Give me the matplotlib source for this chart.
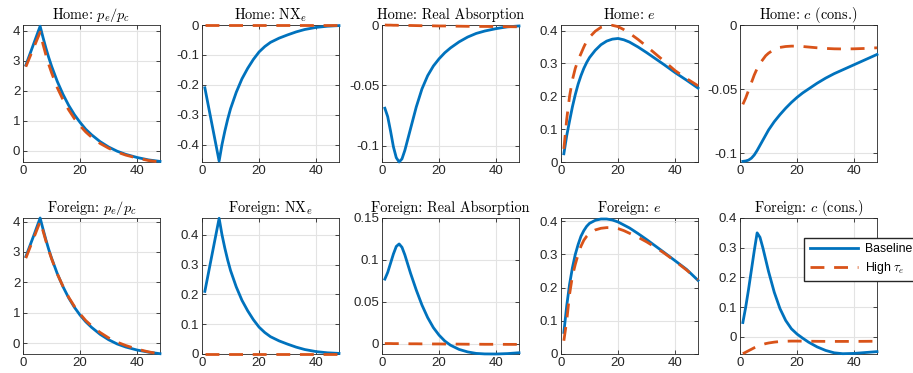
import matplotlib
matplotlib.use("Agg")
import matplotlib.pyplot as plt
from matplotlib.ticker import FuncFormatter

plt.rcParams['font.family'] = ['Liberation Sans', 'DejaVu Sans']
plt.rcParams['mathtext.fontset'] = 'cm'
plt.rcParams['axes.unicode_minus'] = False

# horizon (quarters)
t = [1, 2, 3, 4, 5, 6, 7, 8, 9, 10, 12, 14, 16, 18, 20, 22, 24, 27, 30, 33, 36, 40, 44, 48]

# Home
home_pe_base = [2.85, 3.11, 3.37, 3.63, 3.89, 4.15, 3.78, 3.43, 3.11, 2.82, 2.31, 1.88, 1.51, 1.20, 0.94,
                0.71, 0.53, 0.30, 0.12, -0.02, -0.125, -0.23, -0.31, -0.36]
home_pe_high = [2.80, 3.03, 3.26, 3.49, 3.72, 3.95, 3.55, 3.20, 2.88, 2.60, 2.10, 1.70, 1.36, 1.07, 0.83,
                0.62, 0.45, 0.24, 0.08, -0.05, -0.15, -0.25, -0.33, -0.38]
home_nx_base = [-0.21, -0.259, -0.308, -0.357, -0.406, -0.455, -0.40, -0.355, -0.315, -0.28, -0.225, -0.18,
                -0.145, -0.115, -0.09, -0.072, -0.058, -0.044, -0.033, -0.023, -0.015, -0.008, -0.004, -0.002]
home_nx_high = [0.0] * 24
home_ra_base = [-0.069, -0.076, -0.088, -0.101, -0.110, -0.1136, -0.111, -0.104, -0.095, -0.086, -0.068, -0.053,
                -0.042, -0.034, -0.028, -0.023, -0.019, -0.014, -0.010, -0.007, -0.005, -0.003, -0.0015, -0.0008]
home_ra_high = [0.0, -0.0001, -0.0001, -0.0002, -0.0002, -0.0003, -0.0003, -0.0003, -0.0004, -0.0004, -0.0005,
                -0.0006, -0.0006, -0.0007, -0.0008, -0.0008, -0.0009, -0.001, -0.0011, -0.0012, -0.0012, -0.0013,
                -0.0014, -0.0015]
home_e_base = [0.025, 0.08, 0.125, 0.168, 0.205, 0.237, 0.263, 0.285, 0.303, 0.318, 0.340, 0.357, 0.368, 0.374,
               0.376, 0.372, 0.365, 0.350, 0.333, 0.315, 0.297, 0.272, 0.249, 0.225]
home_e_high = [0.04, 0.13, 0.20, 0.25, 0.285, 0.31, 0.33, 0.35, 0.368, 0.38, 0.398, 0.41, 0.415, 0.416, 0.412,
               0.403, 0.392, 0.373, 0.352, 0.330, 0.308, 0.278, 0.254, 0.232]
home_c_base = [-0.1065, -0.1062, -0.1055, -0.104, -0.1015, -0.098, -0.094, -0.090, -0.086, -0.082, -0.0755, -0.070,
               -0.065, -0.0605, -0.0565, -0.053, -0.050, -0.0455, -0.0415, -0.038, -0.035, -0.031, -0.027, -0.023]
home_c_high = [-0.062, -0.057, -0.051, -0.045, -0.039, -0.034, -0.030, -0.027, -0.024, -0.022, -0.019, -0.0175,
               -0.0168, -0.0165, -0.0165, -0.0168, -0.0172, -0.0178, -0.0183, -0.0186, -0.0187, -0.0186, -0.0183,
               -0.0178]

# Foreign
for_pe_base = [2.85, 3.10, 3.35, 3.60, 3.86, 4.12, 3.76, 3.41, 3.09, 2.80, 2.29, 1.86, 1.49, 1.18, 0.92,
               0.70, 0.52, 0.29, 0.11, -0.03, -0.13, -0.23, -0.30, -0.35]
for_pe_high = [2.80, 3.04, 3.28, 3.52, 3.76, 4.00, 3.70, 3.37, 3.06, 2.78, 2.28, 1.87, 1.51, 1.21, 0.96,
               0.74, 0.57, 0.35, 0.17, 0.03, -0.08, -0.20, -0.29, -0.36]
for_nx_base = [0.21, 0.259, 0.308, 0.357, 0.406, 0.455, 0.40, 0.355, 0.315, 0.28, 0.225, 0.18, 0.145, 0.115,
               0.09, 0.072, 0.058, 0.044, 0.033, 0.023, 0.015, 0.008, 0.004, 0.002]
for_nx_high = [0.0] * 24
for_ra_base = [0.077, 0.085, 0.096, 0.107, 0.116, 0.119, 0.115, 0.106, 0.095, 0.084, 0.064, 0.046, 0.031, 0.019,
               0.010, 0.003, -0.002, -0.007, -0.010, -0.0118, -0.0124, -0.0125, -0.012, -0.011]
for_ra_high = [0.0, 0.0, 0.0, -0.0001, -0.0001, -0.0001, -0.0002, -0.0002, -0.0002, -0.0003, -0.0003, -0.0004,
               -0.0004, -0.0005, -0.0005, -0.0006, -0.0006, -0.0007, -0.0008, -0.0008, -0.0009, -0.0009, -0.001,
               -0.001]
for_e_base = [0.065, 0.145, 0.21, 0.26, 0.30, 0.33, 0.355, 0.372, 0.385, 0.394, 0.403, 0.407, 0.407, 0.404, 0.398,
              0.389, 0.380, 0.363, 0.345, 0.326, 0.307, 0.281, 0.255, 0.222]
for_e_high = [0.04, 0.10, 0.18, 0.235, 0.27, 0.30, 0.325, 0.343, 0.355, 0.364, 0.374, 0.379, 0.381, 0.381, 0.378,
              0.372, 0.364, 0.352, 0.338, 0.322, 0.305, 0.280, 0.253, 0.224]
for_c_base = [0.048, 0.10, 0.16, 0.225, 0.29, 0.35, 0.335, 0.30, 0.26, 0.22, 0.15, 0.095, 0.055, 0.027, 0.009,
              -0.005, -0.018, -0.034, -0.046, -0.054, -0.057, -0.056, -0.053, -0.050]
for_c_high = [-0.057, -0.052, -0.047, -0.042, -0.037, -0.033, -0.029, -0.026, -0.023, -0.021, -0.018, -0.016,
              -0.015, -0.0145, -0.0145, -0.0148, -0.015, -0.0153, -0.0155, -0.0156, -0.0156, -0.0155, -0.0153,
              -0.015]

titles = ['Home: $p_e/p_c$', 'Home: NX$_e$', 'Home: Real Absorption', 'Home: $e$', 'Home: $c$ (cons.)',
          'Foreign: $p_e/p_c$', 'Foreign: NX$_e$', 'Foreign: Real Absorption', 'Foreign: $e$',
          'Foreign: $c$ (cons.)']
series = [(home_pe_base, home_pe_high), (home_nx_base, home_nx_high), (home_ra_base, home_ra_high),
          (home_e_base, home_e_high), (home_c_base, home_c_high),
          (for_pe_base, for_pe_high), (for_nx_base, for_nx_high), (for_ra_base, for_ra_high),
          (for_e_base, for_e_high), (for_c_base, for_c_high)]
ylims = [(-0.38, 4.19), (-0.458, 0), (-0.1136, 0), (0, 0.417), (-0.107, 0),
         (-0.36, 4.12), (0, 0.456), (-0.0125, 0.15), (0, 0.41), (-0.058, 0.4)]
yticks = [[0, 1, 2, 3, 4], [-0.4, -0.3, -0.2, -0.1, 0], [-0.1, -0.05, 0], [0, 0.1, 0.2, 0.3, 0.4], [-0.1, -0.05, 0],
          [0, 1, 2, 3, 4], [0, 0.1, 0.2, 0.3, 0.4], [0, 0.05, 0.1, 0.15], [0, 0.1, 0.2, 0.3, 0.4],
          [0, 0.1, 0.2, 0.3, 0.4]]

blue = '#0072BD'
orange = '#D95319'

W, H = 913, 373
fig = plt.figure(figsize=(W / 100, H / 100), dpi=100)
lefts = [23, 202, 382, 561, 740]
rows = [(25, 162), (218, 354)]

lines = None
for i in range(10):
    r, c = divmod(i, 5)
    top, bot = rows[r]
    ax = fig.add_axes([lefts[c] / W, 1 - bot / H, 137 / W, (bot - top) / H])
    base, high = series[i]
    lb, = ax.plot(t, base, color=blue, lw=2.0, zorder=3, clip_on=False)
    lh, = ax.plot(t, high, color=orange, lw=2.0, dashes=(5, 3.5), zorder=3, clip_on=False)
    lines = (lb, lh)
    ax.set_xlim(0, 48)
    ax.set_ylim(*ylims[i])
    ax.set_xticks([0, 20, 40])
    ax.set_yticks(yticks[i])
    ax.yaxis.set_major_formatter(FuncFormatter(lambda v, p: '%g' % v))
    ax.grid(True, color='#e3e3e3', lw=0.8)
    ax.set_axisbelow(True)
    ax.tick_params(direction='in', length=3, width=0.6, labelsize=9.5, colors='#262626',
                   top=True, right=True, pad=2)
    for s in ax.spines.values():
        s.set_linewidth(0.6)
        s.set_color('#262626')
    ax.set_title(titles[i], fontsize=10.3, pad=4, family='cmr10')

fig.legend(lines, ['Baseline', r'High $\tau_e$'], loc='upper left',
           bbox_to_anchor=(804 / W, 1 - 238 / H), fontsize=8.8, handlelength=4.0,
           fancybox=False, framealpha=1, edgecolor='#262626', borderpad=0.45,
           labelspacing=0.35, handletextpad=0.5, borderaxespad=0)

fig.savefig('out.png', dpi=100)
